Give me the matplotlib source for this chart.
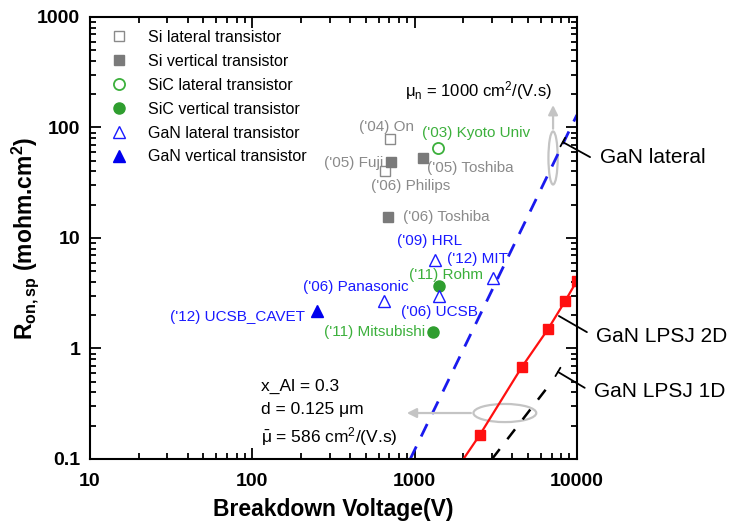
import numpy as np
import matplotlib
matplotlib.use('Agg')
import matplotlib.pyplot as plt
from matplotlib.patches import Ellipse

plt.rcParams['font.family'] = ['Liberation Sans', 'DejaVu Sans']
plt.rcParams['mathtext.fontset'] = 'custom'
plt.rcParams['mathtext.rm'] = 'Liberation Sans'
plt.rcParams['mathtext.it'] = 'Liberation Sans'
plt.rcParams['mathtext.bf'] = 'Liberation Sans:bold'
plt.rcParams['mathtext.default'] = 'regular'

# data (V, mohm.cm2)
si_lat_v = [701, 653]
si_lat_r = [79, 40]
si_lat_lab = ["('04) On", "('06) Philips"]

si_ver_v = [711, 1120, 681]
si_ver_r = [49, 53, 15.6]
si_ver_lab = ["('05) Fuji", "('05) Toshiba", "('06) Toshiba"]

sic_lat_v = [1387]
sic_lat_r = [65.6]
sic_lat_lab = ["('03) Kyoto Univ"]

sic_ver_v = [1405, 1291]
sic_ver_r = [3.7, 1.4]
sic_ver_lab = ["('11) Rohm", "('11) Mitsubishi"]

gan_lat_v = [1327, 3027, 1405, 644]
gan_lat_r = [6.3, 4.3, 3.0, 2.67]
gan_lat_lab = ["('09) HRL", "('12) MIT", "('06) UCSB", "('06) Panasonic"]

gan_ver_v = [252]
gan_ver_r = [2.2]
gan_ver_lab = ["('12) UCSB_CAVET"]

# limit lines
lat_v = [940, 10000]
lat_r = [0.1, 130]
lpsj2d_v = [2000, 2520, 4570, 6620, 8440, 10000]
lpsj2d_r = [0.1, 0.165, 0.677, 1.49, 2.67, 4.1]
lpsj1d_v = [3000, 6700]
lpsj1d_r = [0.1, 0.46]

gray = '#8a8a8a'
mgray = '#7a7a7a'
green = '#3cb03c'
blue = '#1a1aff'
lgray = '#c4c4c4'

fig = plt.figure(figsize=(7.34, 5.26), dpi=100)
ax = fig.add_axes([0.1226, 0.1274, 0.6634, 0.8403])

ax.plot(si_lat_v, si_lat_r, 's', ms=7, mfc='white', mec=gray, mew=1.0, ls='none', label='Si lateral transistor')
ax.plot(si_ver_v, si_ver_r, 's', ms=7, mfc=mgray, mec=mgray, ls='none', label='Si vertical transistor')
ax.plot(sic_lat_v, sic_lat_r, 'o', ms=8, mfc='white', mec=green, mew=1.3, ls='none', label='SiC lateral transistor')
ax.plot(sic_ver_v, sic_ver_r, 'o', ms=8, mfc='#2f9e2f', mec='#2f9e2f', ls='none', label='SiC vertical transistor')
ax.plot(gan_lat_v, gan_lat_r, '^', ms=9, mfc='white', mec=blue, mew=1.0, ls='none', label='GaN lateral transistor')
ax.plot(gan_ver_v, gan_ver_r, '^', ms=9, mfc='#0000ee', mec='#0000ee', ls='none', label='GaN vertical transistor')

ax.plot(lat_v, lat_r, color='#1a1aee', lw=2, dashes=(5, 4))
ax.plot(lpsj2d_v, lpsj2d_r, color='#ff1010', lw=1.6, marker='s', ms=7, markevery=[1, 2, 3, 4, 5])
ax.plot(lpsj1d_v, lpsj1d_r, color='black', lw=1.8, dashes=(5, 5))

# point labels: offsets in pixels from the marker
def label(vs, rs, labs, offs, has, color):
    for v, r, t, o, h in zip(vs, rs, labs, offs, has):
        ax.annotate(t, (v, r), xytext=o, textcoords='offset pixels', ha=h, va='center',
                    color=color, fontsize=11)

label(si_lat_v, si_lat_r, si_lat_lab, [(-3, 12), (-14, -15)], ['center', 'left'], gray)
label(si_ver_v, si_ver_r, si_ver_lab, [(-7, -1), (4, -10), (15, 0)], ['right', 'left', 'left'], gray)
label(sic_lat_v, sic_lat_r, sic_lat_lab, [(-16, 15)], ['left'], green)
label(sic_ver_v, sic_ver_r, sic_ver_lab, [(-30, 11), (-7, 0)], ['left', 'right'], green)
label(gan_lat_v, gan_lat_r, gan_lat_lab, [(-38, 19), (15, 19), (-38, -16), (25, 14)],
      ['left', 'right', 'left', 'right'], blue)
label(gan_ver_v, gan_ver_r, gan_ver_lab, [(-12, -6)], ['right'], blue)

ax.set_xscale('log')
ax.set_yscale('log')
ax.set_xlim(10, 10000)
ax.set_ylim(0.1, 1000)
ax.set_xticks([10, 100, 1000, 10000])
ax.set_xticklabels(['10', '100', '1000', '10000'])
ax.set_yticks([0.1, 1, 10, 100, 1000])
ax.set_yticklabels(['0.1', '1', '10', '100', '1000'])
ax.tick_params(which='both', direction='in', top=True, right=True, width=1.3)
ax.tick_params(which='major', length=8, labelsize=14, pad=7)
ax.tick_params(axis='x', which='major', pad=10)
ax.tick_params(which='minor', length=4)
for t in ax.get_xticklabels() + ax.get_yticklabels():
    t.set_fontweight('bold')
for s in ax.spines.values():
    s.set_linewidth(1.5)

ax.set_xlabel('Breakdown Voltage(V)', fontsize=16.5, fontweight='bold', labelpad=6)
ax.set_ylabel(r'$\mathbf{R_{on,sp}}$ (mohm.cm$\mathbf{^2}$)', fontsize=16.5, fontweight='bold',
              va='center')
ax.yaxis.set_label_coords(-0.133, 0.5)

ax.legend(loc='upper left', frameon=False, fontsize=11.5, handlelength=1.2, handletextpad=1.2,
          labelspacing=0.56, borderaxespad=0.4, bbox_to_anchor=(0.014, 1.0))

# gray mobility annotations
ax.add_patch(Ellipse((0.951, 0.681), 0.019, 0.12, transform=ax.transAxes, fill=False,
                     ec=lgray, lw=1.6))
ax.annotate('', xy=(0.951, 0.807), xytext=(0.951, 0.741), xycoords='axes fraction',
            arrowprops=dict(arrowstyle='-|>', color=lgray, lw=1.6, mutation_scale=14))
ax.add_patch(Ellipse((0.852, 0.104), 0.129, 0.041, transform=ax.transAxes, fill=False,
                     ec=lgray, lw=1.6))
ax.annotate('', xy=(0.645, 0.104), xytext=(0.788, 0.104), xycoords='axes fraction',
            arrowprops=dict(arrowstyle='-|>', color=lgray, lw=1.6, mutation_scale=14))

ax.text(0.647, 0.833, r'$\mu_{n}$ = 1000 cm$^2$/(V.s)', transform=ax.transAxes, fontsize=12,
        va='center', ha='left')
ax.text(0.351, 0.165, 'x_Al = 0.3', transform=ax.transAxes, fontsize=12.5, va='center')
ax.text(0.351, 0.111, 'd = 0.125 \u03bcm', transform=ax.transAxes, fontsize=12.5, va='center')
ax.text(0.351, 0.050, r'$\bar{\mu}$ = 586 cm$^2$/(V.s)', transform=ax.transAxes, fontsize=12.5,
        va='center')

# curve names outside the right spine
ax.annotate('', xy=(0.971, 0.717), xytext=(1.027, 0.683), xycoords='axes fraction',
            arrowprops=dict(arrowstyle='-[, widthB=0.35, lengthB=0', color='black', lw=1.3,
                            shrinkA=0, shrinkB=0), annotation_clip=False)
ax.text(1.047, 0.683, 'GaN lateral', transform=ax.transAxes, fontsize=15, va='center')
ax.annotate('', xy=(0.963, 0.3235), xytext=(1.0205, 0.287), xycoords='axes fraction',
            arrowprops=dict(arrowstyle='-', color='black', lw=1.3, shrinkA=0, shrinkB=0),
            annotation_clip=False)
ax.text(1.039, 0.278, 'GaN LPSJ 2D', transform=ax.transAxes, fontsize=15, va='center')
ax.annotate('', xy=(0.961, 0.197), xytext=(1.016, 0.161), xycoords='axes fraction',
            arrowprops=dict(arrowstyle='-[, widthB=0.35, lengthB=0', color='black', lw=1.3,
                            shrinkA=0, shrinkB=0), annotation_clip=False)
ax.text(1.035, 0.152, 'GaN LPSJ 1D', transform=ax.transAxes, fontsize=15, va='center')

fig.savefig('out.png', dpi=100)
